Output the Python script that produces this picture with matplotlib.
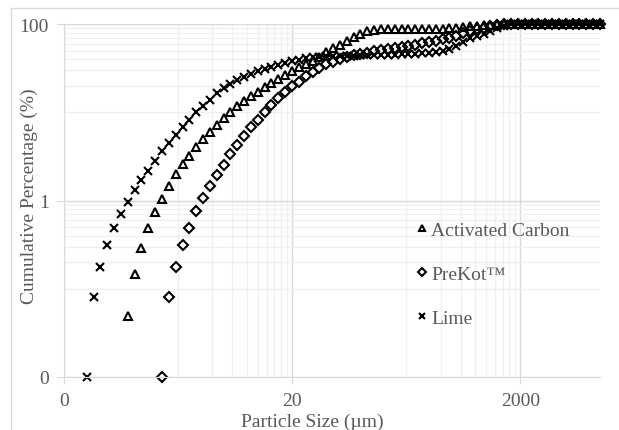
import numpy as np
import matplotlib
matplotlib.use('Agg')
import matplotlib.pyplot as plt
from matplotlib.patches import Rectangle

# --------------------------------------------------------------------------
# Data
#
size_um = [0.316, 0.363, 0.417, 0.479, 0.550, 0.631, 0.724, 0.832, 0.955, 1.096,
           1.259, 1.445, 1.660, 1.905, 2.188, 2.512, 2.884, 3.311, 3.802, 4.365,
           5.012, 5.754, 6.607, 7.586, 8.710, 10.00, 11.48, 13.18, 15.14, 17.38,
           19.95, 22.91, 26.30, 30.20, 34.67, 39.81, 45.71, 52.48, 60.26, 69.18,
           79.43, 91.20, 104.7, 120.2, 138.0, 158.5, 182.0, 208.9, 239.9, 275.4,
           316.2, 363.1, 416.9, 478.6, 549.5, 631.0, 724.4, 831.8, 955.0, 1096,
           1259, 1445, 1660, 1905, 2188, 2512, 2884, 3311, 3802, 4365,
           5012, 5754, 6607, 7586, 8710, 10000]
nan = np.nan
activated_carbon = [nan, nan, nan, nan, nan, nan, 0.049, 0.146, 0.29, 0.49,
                    0.75, 1.04, 1.45, 2.0, 2.59, 3.22, 4.0, 4.98, 5.93, 7.17,
                    8.54, 10.1, 11.9, 13.5, 15.4, 17.1, 19.2, 21.3, 23.8, 26.4,
                    29.6, 32.3, 35.3, 38.4, 42.0, 47.8, 53.0, 58.0, 64.7, 70.6,
                    77.0, 82.6, 86.0, 87.7, 88.0, 88.0, 88.0, 88.0, 88.0, 88.0,
                    88.0, 88.0, 88.5, 89.5, 91.0, 92.5, 94.0, 95.5, 97.0, 98.5,
                    99.5, 100, 100, 100, 100, 100, 100, 100, 100, 100,
                    100, 100, 100, 100, 100, 100]
prekot = [nan, nan, nan, nan, nan, nan, nan, nan, nan, nan,
          nan, 0.01, 0.08, 0.175, 0.31, 0.49, 0.77, 1.06, 1.45, 1.95,
          2.52, 3.36, 4.26, 5.42, 6.75, 8.24, 9.98, 12.1, 14.4, 16.8,
          19.7, 22.2, 25.5, 28.8, 32.0, 35.0, 37.5, 40.0, 42.0, 44.0,
          46.0, 47.5, 49.0, 50.5, 52.0, 53.0, 54.5, 56.0, 58.0, 61.0,
          63.0, 65.0, 67.0, 70.0, 74.0, 79.0, 84.0, 88.0, 91.0, 94.0,
          97.0, 99.0, 100, 100, 100, 100, 100, 100, 100, 100,
          100, 100, 100, 100, 100, 100]
lime = [0.01, 0.08, 0.175, 0.31, 0.49, 0.71, 0.97, 1.32, 1.71, 2.18,
        2.78, 3.61, 4.48, 5.52, 6.75, 8.24, 9.98, 11.9, 13.9, 16.4,
        18.7, 20.9, 23.2, 25.3, 27.4, 29.6, 31.1, 32.8, 34.6, 36.1,
        37.8, 39.1, 40.8, 42.0, 42.5, 43.0, 43.2, 43.4, 43.6, 43.8,
        44.0, 44.2, 44.4, 44.6, 44.8, 45.0, 45.3, 45.6, 46.0, 46.5,
        47.0, 48.0, 49.5, 52.0, 57.0, 63.0, 69.0, 73.0, 78.0, 83.0,
        89.0, 95.0, 99.0, 100, 100, 100, 100, 100, 100, 100,
        100, 100, 100, 100, 100, 100]

x_major = [0.2, 20, 2000]
x_major_labels = ['0', '20', '2000']
x_minor = [2, 4, 6, 8, 10, 12, 14, 16, 18,
           200, 400, 600, 800, 1000, 1200, 1400, 1600, 1800]
y_major = [0.01, 1, 100]
y_major_labels = ['0', '1', '100']
y_minor = [0.1, 0.2, 0.3, 0.4, 0.5, 0.6, 0.7, 0.8, 0.9,
           10, 20, 30, 40, 50, 60, 70, 80, 90]

# --------------------------------------------------------------------------
# Figure
#
plt.rcParams['font.family'] = ['Liberation Serif', 'DejaVu Serif']
text_grey = '#595959'
fs = 14

fig = plt.figure(figsize=(6.19, 4.31), dpi=100)
fig.patches.append(Rectangle((11 / 619, -0.1), 1.2, (431 - 9) / 431 + 0.1,
                             transform=fig.transFigure, fill=False,
                             edgecolor='#d9d9d9', linewidth=1))
ax = fig.add_axes([64 / 619, 53 / 431, 536 / 619, 353 / 431])

ax.set_xscale('log')
ax.set_yscale('log')
ax.set_xlim(0.2, 10000)
ax.set_ylim(0.01, 100)

# Series
style = dict(linestyle='none', color='black', markeredgewidth=1.5,
             clip_on=False)
ax.plot(size_um, activated_carbon, marker='^', markersize=6.2,
        markerfacecolor='none', label='Activated Carbon', **style)
ax.plot(size_um, prekot, marker='D', markersize=4.6,
        markerfacecolor='none', label='PreKot™', **style)
ax.plot(size_um, lime, marker='x', markersize=5.5, label='Lime', **style)

# Ticks and grid
ax.set_xticks(x_major)
ax.set_xticklabels(x_major_labels)
ax.set_xticks(x_minor, minor=True)
ax.set_xticklabels([], minor=True)
ax.set_yticks(y_major)
ax.set_yticklabels(y_major_labels)
ax.set_yticks(y_minor, minor=True)
ax.set_yticklabels([], minor=True)
ax.grid(which='major', color='#d9d9d9', linewidth=1)
ax.grid(which='minor', color='#f0f0f0', linewidth=1)
ax.set_axisbelow(True)
ax.tick_params(which='major', length=5, color='#d9d9d9', labelsize=fs,
               labelcolor=text_grey)
ax.tick_params(axis='x', which='major', pad=6)
ax.tick_params(axis='y', which='major', pad=6)
ax.tick_params(which='minor', length=0)
for side in ['top', 'right']:
    ax.spines[side].set_visible(False)
for side in ['left', 'bottom']:
    ax.spines[side].set_color('#d9d9d9')

ax.set_xlabel('Particle Size (µm)', fontsize=fs, color=text_grey)
ax.xaxis.set_label_coords(0.464, -0.1)
ax.set_ylabel('Cumulative Percentage (%)', fontsize=fs, color=text_grey)
ax.yaxis.set_label_coords(-0.048, 0.516)

ax.legend(loc='upper left', bbox_to_anchor=(0.625, 0.49), frameon=False,
          fontsize=fs, labelcolor=text_grey, handlelength=0.6,
          handletextpad=0.15, labelspacing=1.36, markerscale=0.8)

fig.savefig('out.png', dpi=100)
